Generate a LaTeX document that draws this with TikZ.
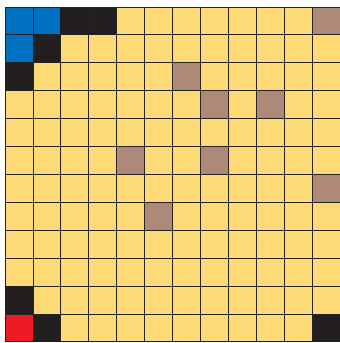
\documentclass[tikz,border=0pt]{standalone}
\usepackage{xcolor}
\definecolor{gridYellow}{RGB}{254,218,119}
\definecolor{gridBrown}{RGB}{173,138,120}
\definecolor{gridBlue}{RGB}{0,112,192}
\definecolor{gridBlack}{RGB}{35,31,32}
\definecolor{gridRed}{RGB}{237,28,36}
\definecolor{gridLine}{RGB}{38,34,30}
\usepackage{tikz}

\begin{document}
\begin{tikzpicture}[
    cellBase/.style={fill=gridYellow},
    cellBrown/.style={fill=gridBrown},
    cellBlue/.style={fill=gridBlue},
    cellBlack/.style={fill=gridBlack},
    cellRed/.style={fill=gridRed},
    gridStroke/.style={draw=gridLine, line width=0.8pt},
    cellEdge/.style={draw=gray!60, line width=0.8pt}
]

    % Frame of the picture
    \useasboundingbox (-0.18,-12.04) rectangle (12.0,0.25);

    % Board background
    \fill[cellBase] (0,-12) rectangle (12,0);

    % Brown cells (column/row)
    \foreach \c/\r in {11/0, 6/2, 7/3, 9/3, 4/5, 7/5, 11/6, 5/7}
        \fill[cellBrown] (\c,-\r) rectangle ++(1,-1);

    % Blue corner
    \foreach \c/\r in {0/0, 1/0, 0/1}
        \fill[cellBlue] (\c,-\r) rectangle ++(1,-1);

    % Black cells
    \foreach \c/\r in {2/0, 3/0, 1/1, 0/2, 0/10, 1/11, 11/11}
        \fill[cellBlack] (\c,-\r) rectangle ++(1,-1);

    % Red cell
    \fill[cellRed] (0,-11) rectangle ++(1,-1);

    % Grid lines
    \draw[gridStroke] (0,-12) grid (12,0);

\end{tikzpicture}
\end{document}
